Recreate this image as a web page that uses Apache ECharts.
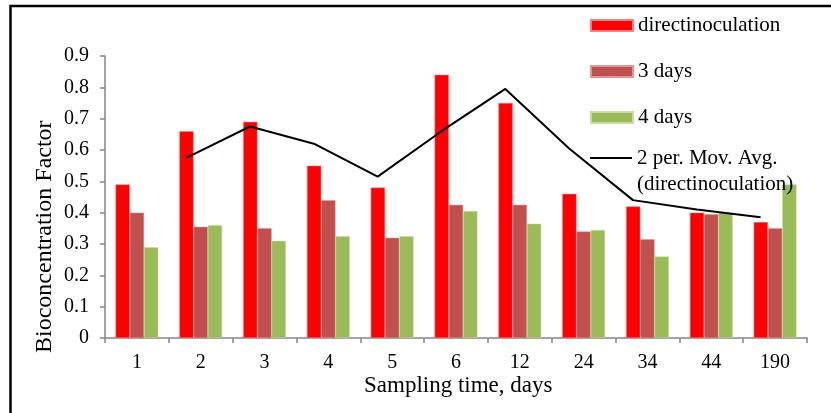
<!DOCTYPE html>
<html>
<head>
<meta charset="utf-8">
<script src="https://cdn.jsdelivr.net/npm/echarts@6/dist/echarts.min.js"></script>
<style>html,body{margin:0;padding:0;background:#fff}#c{width:831px;height:413px}</style>
</head>
<body>
<div id="c"></div>
<script>
var categories = ['1', '2', '3', '4', '5', '6', '12', '24', '34', '44', '190'];
var directInoculation = [0.49, 0.66, 0.69, 0.55, 0.48, 0.84, 0.75, 0.46, 0.42, 0.40, 0.37];
var threeDays = [0.40, 0.355, 0.35, 0.44, 0.32, 0.425, 0.425, 0.34, 0.315, 0.395, 0.35];
var fourDays = [0.29, 0.36, 0.31, 0.325, 0.325, 0.405, 0.365, 0.345, 0.26, 0.40, 0.49];
var movAvg = ['-', 0.575, 0.675, 0.62, 0.515, 0.66, 0.795, 0.605, 0.44, 0.41, 0.385];
var yTicks = [0, 0.1, 0.2, 0.3, 0.4, 0.5, 0.6, 0.7, 0.8, 0.9];

var FONT = 'Liberation Serif';
var chart = echarts.init(document.getElementById('c'), null, {renderer: 'canvas'});
var axisGray = '#868686';
chart.setOption({
  animation: false,
  backgroundColor: '#ffffff',
  textStyle: {fontFamily: FONT, color: '#000'},
  grid: [
    {left: 105, right: 24, top: 56, bottom: 75},
    {left: 90.5, right: 38.5, top: 56, bottom: 75}
  ],
  xAxis: [
    {
      type: 'category', data: categories, gridIndex: 0,
      axisLine: {lineStyle: {color: axisGray, width: 1.5}},
      axisTick: {show: true, length: 5, lineStyle: {color: axisGray, width: 1.5}},
      axisLabel: {fontFamily: FONT, fontSize: 20, color: '#000', margin: 15}
    },
    {
      type: 'category', data: categories, gridIndex: 1, show: false
    }
  ],
  yAxis: [
    {
      type: 'value', gridIndex: 0, min: 0, max: 0.9, interval: 0.1,
      axisLine: {show: true, lineStyle: {color: axisGray, width: 1.5}},
      axisTick: {show: true, length: 5, lineStyle: {color: axisGray, width: 1.5}},
      splitLine: {show: false},
      axisLabel: {fontFamily: FONT, fontSize: 20, color: '#000', margin: 16,
        formatter: function (v) { return String(Math.round(v * 10) / 10); }}
    },
    {
      type: 'value', gridIndex: 1, min: 0, max: 0.9, show: false
    }
  ],
  legend: [
    {
      orient: 'vertical', left: 585, top: 10, icon: 'rect',
      itemWidth: 42, itemHeight: 11, itemGap: 25,
      textStyle: {fontFamily: FONT, fontSize: 21, color: '#000', lineHeight: 20},
      data: ['directinoculation', '3 days', '4 days']
    },
    {
      orient: 'vertical', left: 585, top: 114, icon: 'rect',
      itemWidth: 42, itemHeight: 2,
      itemStyle: {color: '#000'},
      formatter: function (name) { return '\n' + name; },
      textStyle: {fontFamily: FONT, fontSize: 21, color: '#000', lineHeight: 26},
      data: ['2 per. Mov. Avg.\n(directinoculation)']
    }
  ],
  graphic: [
    {type: 'rect', shape: {x: 10.5, y: 6, width: 900, height: 500},
      style: {fill: 'none', stroke: '#000', lineWidth: 2.5}, silent: true},
    {type: 'text', left: 364, top: 374,
      style: {text: 'Sampling time, days', font: '23px "Liberation Serif"', fill: '#000'}},
    {type: 'text', x: 33, y: 353, rotation: Math.PI / 2,
      style: {text: 'Bioconcentration Factor', font: '24px "Liberation Serif"', fill: '#000', textVerticalAlign: 'top'}}
  ],
  series: [
    {name: 'directinoculation', type: 'bar', data: directInoculation, barGap: '0%', barCategoryGap: '33%',
      itemStyle: {color: '#FF0000', borderColor: '#FF8080', borderWidth: 0.5}},
    {name: '3 days', type: 'bar', data: threeDays, barGap: '0%', barCategoryGap: '33%',
      itemStyle: {color: '#C0504D', borderColor: '#DC9896', borderWidth: 0.5}},
    {name: '4 days', type: 'bar', data: fourDays, barGap: '0%', barCategoryGap: '33%',
      itemStyle: {color: '#9BBB59', borderColor: '#C9DAA8', borderWidth: 0.5}},
    {name: '2 per. Mov. Avg.\n(directinoculation)', type: 'line', xAxisIndex: 1, yAxisIndex: 1,
      data: movAvg, symbol: 'none', lineStyle: {color: '#000', width: 2}, itemStyle: {color: '#000'}}
  ]
});
</script>
</body>
</html>
